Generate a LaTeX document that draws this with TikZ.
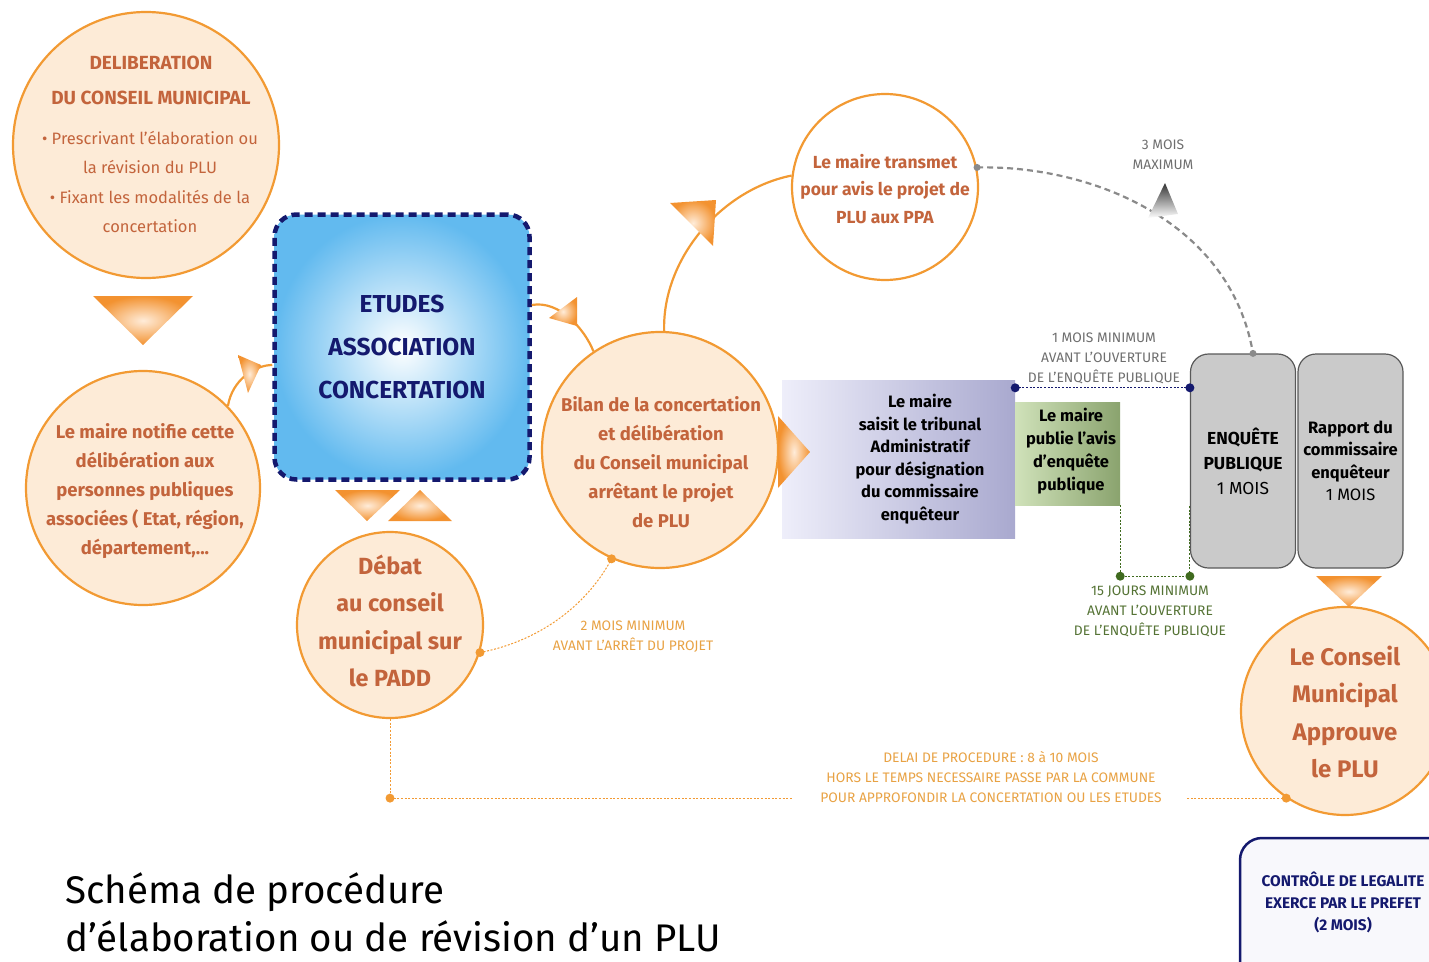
\documentclass[tikz,border=0pt]{standalone}
\usepackage{fontspec}
\setmainfont{Fira Sans}
\usetikzlibrary{positioning,shadings}

\definecolor{orl}{HTML}{F29A33}
\definecolor{peach}{HTML}{FDEBD7}
\definecolor{rust}{HTML}{C3643C}
\definecolor{navy}{HTML}{14196E}
\definecolor{skyb}{HTML}{62BAEF}
\definecolor{gry}{HTML}{8A8A8A}
\definecolor{grytxt}{HTML}{6E6E6E}
\definecolor{grnl}{HTML}{3F6A1E}
\definecolor{grntxt}{HTML}{557335}
\definecolor{delai}{HTML}{E8A244}
\definecolor{lavl}{HTML}{EEEEFA}
\definecolor{lavd}{HTML}{A9A9CF}
\definecolor{grnf}{HTML}{D0E2BA}
\definecolor{grnd}{HTML}{8AA36E}
\definecolor{boxg}{HTML}{CACACA}
\definecolor{ctlf}{HTML}{F8F8FC}

\begin{document}
\begin{tikzpicture}[x=1pt,y=-1pt,
    bubble/.style={circle,draw=orl,line width=2.2pt,fill=peach,inner sep=0pt},
    btxt/.style={align=center,text=rust,font=\bfseries\fontsize{18.5}{29}\selectfont},
    tri/.style={inner color=orange!15,outer color=orl!95!red},
    graybox/.style={rectangle,rounded corners=18pt,draw=black!65,line width=1.2pt,fill=boxg,
      minimum width=105pt,minimum height=214pt,align=center},
    small/.style={align=center,font=\fontsize{13.8}{20}\selectfont},
    flow/.style={orl,line width=2.2pt},
    dots/.style={line width=1pt,dash pattern=on 2pt off 1.6pt}]
  \useasboundingbox (0,0) rectangle (1429,961);

  % cercles et boites
  \node[bubble,minimum size=266pt] (delib) at (146,145) {};
  \node[btxt,font=\bfseries\fontsize{19}{35}\selectfont] (delibT) at (151,80) {DELIBERATION\\DU CONSEIL MUNICIPAL};
  \node[btxt,font=\fontsize{16.5}{29.5}\selectfont] (delibB) at (150,182) {\textbullet\ Prescrivant l'élaboration ou\\la révision du PLU\\\textbullet\ Fixant les modalités de la\\concertation};

  \node[bubble,minimum size=234pt] (notif) at (143,488) {};
  \node[btxt] (notifT) at (145,491) {Le maire notifie cette\\délibération aux\\personnes publiques\\associées ( Etat, région,\\département,...};

  \node[rectangle,rounded corners=22pt,minimum width=255pt,minimum height=265pt,
    inner color=white,outer color=skyb,draw=navy,line width=4.5pt,dash pattern=on 8pt off 5pt,
    align=center,text=navy,font=\bfseries\fontsize{24.5}{43}\selectfont] (etudes) at (402,347) {ETUDES\\ASSOCIATION\\CONCERTATION};

  \node[bubble,minimum size=186pt] (padd) at (390,625) {};
  \node[btxt,font=\bfseries\fontsize{23.4}{37.5}\selectfont] (paddT) at (390,621) {Débat\\au conseil\\municipal sur\\le PADD};

  \node[rectangle,minimum width=233pt,minimum height=158pt,left color=lavl,right color=lavd] (saisit) at (898.5,459) {};
  \node[align=center,font=\bfseries\fontsize{16.5}{22.5}\selectfont] (saisitT) at (920,459) {Le maire\\saisit le tribunal\\Administratif\\pour désignation\\du commissaire\\enquêteur};

  \node[rectangle,minimum width=105pt,minimum height=103pt,left color=grnf,right color=grnd] (avis) at (1067.5,453.5) {};
  \node[align=center,font=\bfseries\fontsize{16.5}{23}\selectfont] (avisT) at (1071,451) {Le maire\\publie l'avis\\d'enquête\\publique};

  \node[bubble,minimum size=236pt] (bilan) at (660,450) {};
  \node[btxt] (bilanT) at (661,462) {Bilan de la concertation\\et délibération\\du Conseil municipal\\arrêtant le projet\\de PLU};

  \node[bubble,fill=white,minimum size=186pt] (ppa) at (885,187) {};
  \node[btxt,font=\bfseries\fontsize{17.5}{27.5}\selectfont] (ppaT) at (885,189) {Le maire transmet\\pour avis le projet de\\PLU aux PPA};

  \node[graybox,font=\fontsize{17.4}{25}\selectfont] (enq) at (1243,461) {\textbf{ENQUÊTE}\\\textbf{PUBLIQUE}\\1 MOIS};
  \node[graybox,font=\fontsize{16.5}{22.5}\selectfont] (rapport) at (1350.5,461) {\textbf{Rapport du}\\\textbf{commissaire}\\\textbf{enquêteur}\\1 MOIS};

  \node[bubble,minimum size=208pt] (appro) at (1345,711) {};
  \node[btxt,font=\bfseries\fontsize{24}{37.5}\selectfont] (approT) at (1345,712) {Le Conseil\\Municipal\\Approuve\\le PLU};

  \node[rectangle,rounded corners=22pt,draw=navy,line width=2.5pt,fill=ctlf,minimum width=210pt,minimum height=150pt] (ctrl) at (1345,913) {};
  \node[align=center,text=navy,font=\bfseries\fontsize{15.4}{22}\selectfont] (ctrlT) at (1343,902) {CONTRÔLE DE LEGALITE\\EXERCE PAR LE PREFET\\(2 MOIS)};

  % fleches
  \draw[flow] (notif.44) .. controls (232,380) and (255,365) .. ([yshift=-18pt]etudes.west);
  \shade[tri] (238,355) -- (261,365) -- (248,393) -- cycle;
  \draw[flow] ([yshift=42pt]etudes.east) .. controls (560,300) and (585,330) .. (bilan.124);
  \shade[tri] (549,318) -- (577,297) -- (577,326) -- cycle;
  \draw[flow] (bilan.88) .. controls (662,260) and (720,190) .. (ppa.173);
  \shade[tri] (670,203) -- (716,200) -- (713,246) -- cycle;
  \shade[tri] (778,416) -- (810,452) -- (778,488) -- cycle;
  \shade[tri] (93,296) -- (193,296) -- (143,345) -- cycle;
  \shade[tri] (335,490) -- (400,490) -- (367,521) -- cycle;
  \shade[tri] (388,521) -- (452,521) -- (420,490) -- cycle;
  \shade[tri] (1316,576) -- (1382,576) -- (1349,607) -- cycle;

  % delais
  \draw[gry,line width=2.2pt,dash pattern=on 6pt off 4pt] (ppa.12) .. controls (1090,165) and (1230,220) .. ([xshift=10pt]enq.north);
  \fill[gry] (ppa.12) circle (3.5pt) ([xshift=10pt]enq.north) circle (3.5pt);
  \shade[top color=black!80,bottom color=white] (1165,183) -- (1148,218) -- (1178,214) -- cycle;
  \node[small,text=grytxt] (troismois) at (1163,155) {3 MOIS\\MAXIMUM};

  \draw[navy,dots] ([yshift=-8pt]saisit.north east) coordinate (n1) -- (n1 -| enq.west) coordinate (n2);
  \fill[navy] (n1) circle (4.5pt) (n2) circle (4.5pt);
  \node[small,text=grytxt] (unmois) at (1104,358) {1 MOIS MINIMUM\\AVANT L'OUVERTURE\\DE L'ENQUÊTE PUBLIQUE};

  \draw[grnl,dots] (avis.south east) -- ++(0,71) coordinate (g1) -- (g1 -| enq.west) coordinate (g2) -- (g2 |- avis.south);
  \fill[grnl] (g1) circle (4.5pt) (g2) circle (4.5pt);
  \node[small,text=grntxt] (quinze) at (1150,611) {15 JOURS MINIMUM\\AVANT L'OUVERTURE\\DE L'ENQUÊTE PUBLIQUE};

  \draw[orl,dots] (padd.343) .. controls (545,640) and (590,600) .. (bilan.246);
  \fill[orl] (padd.343) circle (4.5pt) (bilan.246) circle (4.5pt);
  \node[small,text=delai] (deuxmois) at (633,637) {2 MOIS MINIMUM\\AVANT L'ARRÊT DU PROJET};

  \draw[orl,dots] (padd.south) -- (padd.south |- appro.236) coordinate (d1) -- ++(403,0);
  \draw[orl,dots] (appro.236) -- ++(-100,0);
  \fill[orl] (d1) circle (4.5pt) (appro.236) circle (4.5pt);
  \node[small,text=delai] (delaiT) at (991,777) {DELAI DE PROCEDURE : 8 à 10 MOIS\\HORS LE TEMPS NECESSAIRE PASSE PAR LA COMMUNE\\POUR APPROFONDIR LA CONCERTATION OU LES ETUDES};

  % titre
  \node[anchor=base west,font=\fontsize{38.5}{40}\selectfont] (titre1) at (62,903) {Schéma de procédure};
  \node[anchor=base west,font=\fontsize{38.5}{40}\selectfont] (titre2) at (62,951) {d'élaboration ou de révision d'un PLU};
\end{tikzpicture}
\end{document}
